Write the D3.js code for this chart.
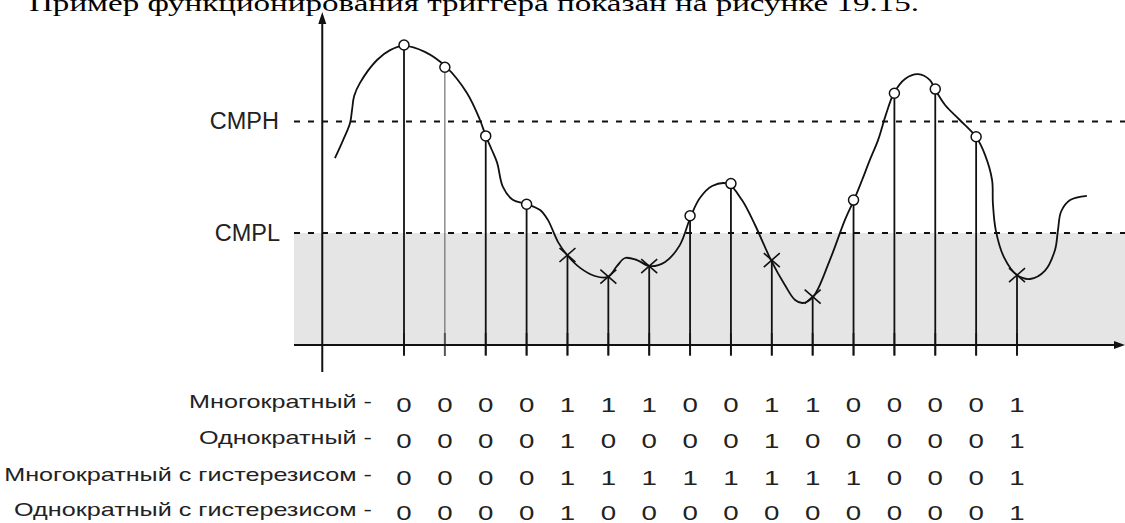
<!DOCTYPE html>
<head>
  <meta charset="utf-8">
  <script src="https://d3js.org/d3.v7.min.js"></script>
  <style>
    body { margin: 0; background: #fff; }
    .title { font-family: "Liberation Serif", "Times New Roman", serif; font-size: 24px; fill: #000; }
    .lvl { font-family: "Liberation Sans", Arial, sans-serif; font-size: 23.5px; fill: #222; }
    .rowlabel { font-family: "Liberation Sans", Arial, sans-serif; font-size: 18px; fill: #222; }
    .bit { font-family: "Liberation Sans", Arial, sans-serif; font-size: 20.5px; fill: #222; }
  </style>
</head>
<body>
<script>
  // sample instants 1..16 and the sampled signal level (0..100)
  var sampleT = d3.range(1, 17);
  var sampleV = [100, 92.6, 69.7, 46.9, 30, 22.8, 26.3, 43.1, 53.8, 28.3, 16.1, 48.3, 83.9, 85.3, 69.4, 23.3];

  // thresholds
  var cmpL = 37.3, cmpH = 74.5;

  // freehand input signal
  var curveT = [-0.69, -0.49, -0.32, -0.27, -0.22, -0.08, 0.34, 0.66, 1.0, 1.51, 2.03, 2.54, 2.86, 3.0, 3.15, 3.28, 3.42, 3.67, 3.99,
    4.33, 4.52, 4.77, 4.99, 5.31, 5.67, 5.99, 6.21, 6.41, 6.70, 7.02, 7.39, 7.75, 8.02, 8.24, 8.54, 8.93, 9.27, 9.59, 9.98,
    10.32, 10.57, 10.76, 11.01, 11.42, 11.79, 12.01, 12.21, 12.40, 12.60, 12.79, 12.99, 13.26, 13.58, 13.87, 13.99, 14.24,
    14.60, 15.0, 15.22, 15.39, 15.41, 15.48, 15.68, 16.0, 16.32, 16.68, 16.93, 17.0, 17.08, 17.3, 17.71];
  var curveV = [62.3, 68.3, 74, 78.5, 83, 87.3, 95, 98.3, 99.7, 97.7, 92.7, 84, 75, 69.7, 65, 60.7, 52.7, 48.3, 47,
    45, 41.7, 34.3, 30, 25.7, 23, 22.7, 26.3, 29, 28.3, 26.3, 27.7, 33.3, 43, 49, 53, 53.7, 48.3, 40, 28.3,
    20, 15, 14, 16, 28.3, 41.7, 48.3, 55, 61.7, 68.3, 76.7, 84, 88.7, 90.3, 88.3, 85.3, 80,
    75, 69.3, 63.3, 55, 47.3, 38.3, 29.3, 23.3, 22, 24.7, 31.7, 38, 44.5, 48.3, 49.7];

  var rowLabels = ["Многократный -", "Однократный -", "Многократный с гистерезисом -", "Однократный с гистерезисом -"];
  var rowMulti    = [0,0,0,0,1,1,1,0,0,1,1,0,0,0,0,1];
  var rowSingle   = [0,0,0,0,1,0,0,0,0,1,0,0,0,0,0,1];
  var rowMultiH   = [0,0,0,0,1,1,1,1,1,1,1,1,0,0,0,1];
  var rowSingleH  = [0,0,0,0,1,0,0,0,0,0,0,0,0,0,0,1];
  var rows = [rowMulti, rowSingle, rowMultiH, rowSingleH];

  var W = 1125, H = 523;
  var svg = d3.select("body").append("svg")
      .attr("width", W)
      .attr("height", H);

  var x = d3.scaleLinear().domain([1, 16]).range([404, 1017]);
  var y = d3.scaleLinear().domain([0, 100]).range([345, 45]);

  var axisX = x(-1), plotLeft = 294, plotRight = W;

  // title (cut at the top edge, stretched wide like the scan)
  svg.append("text")
      .attr("class", "title")
      .attr("x", 29)
      .attr("y", 10.5)
      .attr("textLength", 890)
      .attr("lengthAdjust", "spacingAndGlyphs")
      .text("Пример функционирования триггера показан на рисунке 19.15.");

  // shaded zone below CMPL
  svg.append("rect")
      .attr("x", plotLeft)
      .attr("y", y(cmpL))
      .attr("width", plotRight - plotLeft)
      .attr("height", y(0) - y(cmpL))
      .attr("fill", "#e5e5e5");

  // threshold lines
  [cmpH, cmpL].forEach(function(v) {
    svg.append("line")
        .attr("x1", plotLeft).attr("x2", plotRight)
        .attr("y1", y(v)).attr("y2", y(v))
        .attr("stroke", "#111")
        .attr("stroke-width", 2)
        .attr("stroke-dasharray", "6,8");
  });
  svg.append("text").attr("class", "lvl")
      .attr("x", 279).attr("y", y(cmpH) + 7.5)
      .attr("text-anchor", "end").text("CMPH");
  svg.append("text").attr("class", "lvl")
      .attr("x", 280).attr("y", y(cmpL) + 7.5)
      .attr("text-anchor", "end").text("CMPL");

  // tick marks on the time axis
  svg.selectAll(".tick")
      .data(sampleT)
    .enter().append("line")
      .attr("x1", function(d) { return x(d); })
      .attr("x2", function(d) { return x(d); })
      .attr("y1", y(0) - 12)
      .attr("y2", y(0) + 11)
      .attr("stroke", "#555")
      .attr("stroke-width", 2);

  // sample lines
  svg.selectAll(".stem")
      .data(sampleV)
    .enter().append("line")
      .attr("x1", function(d, i) { return x(sampleT[i]); })
      .attr("x2", function(d, i) { return x(sampleT[i]); })
      .attr("y1", function(d) { return y(d); })
      .attr("y2", function(d, i) { return i == 1 ? y(0) : y(0) + 10; })
      .attr("stroke", function(d, i) { return i == 1 ? "#555" : "#111"; })
      .attr("stroke-width", function(d, i) { return i == 1 ? 1 : 1.8; });

  // axes
  svg.append("line")
      .attr("x1", plotLeft).attr("x2", W - 8)
      .attr("y1", y(0)).attr("y2", y(0))
      .attr("stroke", "#111").attr("stroke-width", 2);
  svg.append("path")
      .attr("d", "M" + W + "," + y(0) + "L" + (W - 11) + "," + (y(0) - 4) + "L" + (W - 11) + "," + (y(0) + 4) + "Z")
      .attr("fill", "#111");
  svg.append("line")
      .attr("x1", axisX).attr("x2", axisX)
      .attr("y1", 22).attr("y2", 372)
      .attr("stroke", "#111").attr("stroke-width", 2);
  svg.append("path")
      .attr("d", "M" + axisX + ",12L" + (axisX - 4) + ",24L" + (axisX + 4) + ",24Z")
      .attr("fill", "#111");

  // input signal
  var line = d3.line()
      .x(function(d) { return x(d[0]); })
      .y(function(d) { return y(d[1]); })
      .curve(d3.curveCatmullRom.alpha(0.5));
  svg.append("path")
      .datum(d3.zip(curveT, curveV))
      .attr("d", line)
      .attr("fill", "none")
      .attr("stroke", "#111")
      .attr("stroke-width", 1.8);

  // markers: circle above CMPL, cross below
  var marks = svg.selectAll(".mark")
      .data(sampleV)
    .enter().append("g")
      .attr("transform", function(d, i) { return "translate(" + x(sampleT[i]) + "," + y(d) + ")"; });
  marks.filter(function(d) { return d >= cmpL; })
    .append("circle")
      .attr("r", 5)
      .attr("fill", "#fff")
      .attr("stroke", "#111")
      .attr("stroke-width", 1.5);
  marks.filter(function(d) { return d < cmpL; })
    .append("path")
      .attr("d", "M-8,-7L8,7M-8,7L8,-7")
      .attr("stroke", "#111")
      .attr("stroke-width", 1.6);

  // output rows (the scan is stretched sideways, hence scaleX)
  var labelBase = [408, 444, 481, 516];
  rowLabels.forEach(function(lab, r) {
    svg.append("text").attr("class", "rowlabel")
        .attr("transform", "translate(372," + labelBase[r] + ") scale(1.4,1)")
        .attr("text-anchor", "end")
        .text(lab);
    svg.selectAll(".bit" + r)
        .data(rows[r])
      .enter().append("text")
        .attr("class", "bit")
        .attr("transform", function(d, i) { return "translate(" + x(sampleT[i]) + "," + (labelBase[r] + 4) + ") scale(1.35,1)"; })
        .attr("text-anchor", "middle")
        .text(function(d) { return d; });
  });
</script>
</body>
